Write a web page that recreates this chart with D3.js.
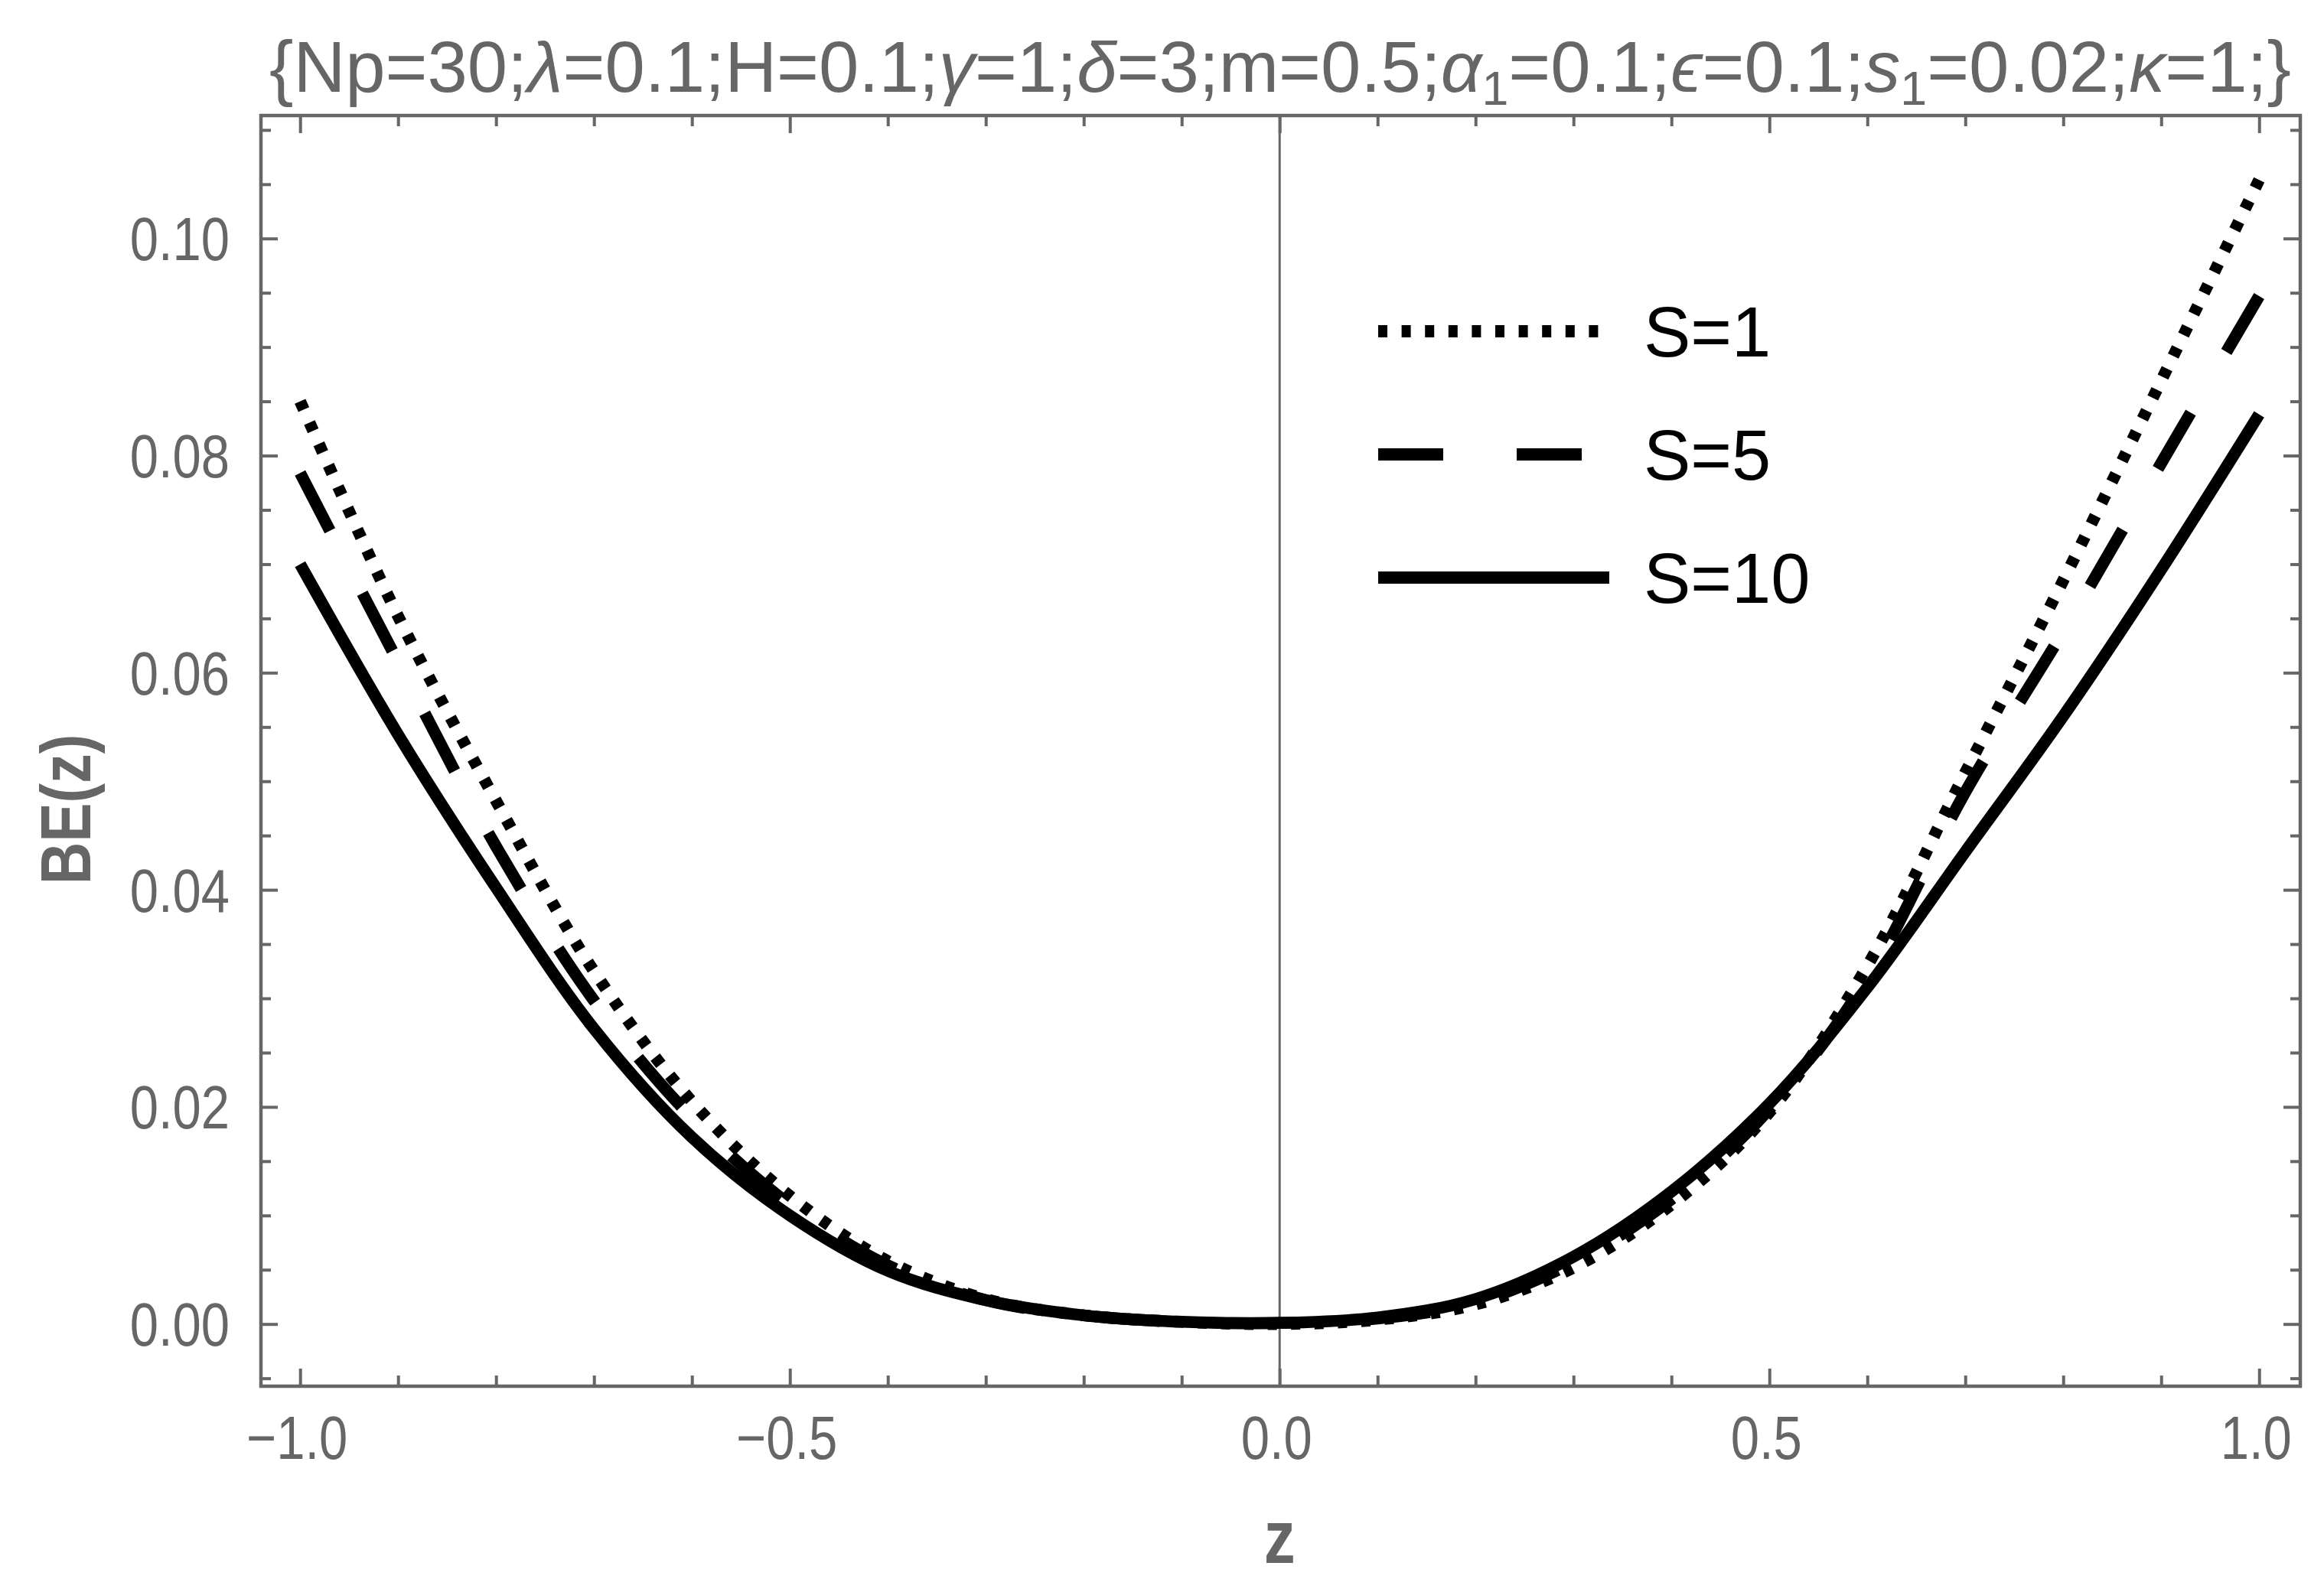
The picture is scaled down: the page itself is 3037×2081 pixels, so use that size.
<!DOCTYPE html>
<html><head><meta charset="utf-8">
<script src="https://cdn.jsdelivr.net/npm/d3@7"></script>
<style>body{margin:0;background:#fff}</style>
</head><body>
<svg id="c" width="3037" height="2081"></svg>
<script>
// ---- data ----
const zValues = [-1.0,-0.9,-0.8,-0.7,-0.6,-0.5,-0.4,-0.3,-0.2,-0.1,0.0,0.1,0.2,0.3,0.4,0.5,0.6,0.7,0.8,0.9,1.0];
const beS1  = [0.0850,0.0652,0.0482,0.0325,0.0205,0.0118,0.0058,0.0023,0.0008,0.0002,0.0000,0.0004,0.0018,0.0052,0.0110,0.0195,0.0330,0.0508,0.0685,0.0869,0.1054];
const beS5  = [0.0784,0.0610,0.0440,0.0298,0.0190,0.0110,0.0054,0.0022,0.0008,0.0002,0.0001,0.0005,0.0020,0.0057,0.0115,0.0198,0.0318,0.0490,0.0638,0.0793,0.0947];
const beS10 = [0.0700,0.0543,0.0402,0.0272,0.0172,0.0100,0.0049,0.0022,0.0008,0.0002,0.0001,0.0006,0.0023,0.0062,0.0122,0.0203,0.0310,0.0435,0.0560,0.0695,0.0838];
const seriesNames = ["S=1","S=5","S=10"];
const xTickValues = [-1.0,-0.5,0.0,0.5,1.0];
const xTickLabels = ["\u22121.0","\u22120.5","0.0","0.5","1.0"];
const yTickValues = [0.00,0.02,0.04,0.06,0.08,0.10];
const yTickLabels = ["0.00","0.02","0.04","0.06","0.08","0.10"];
const xLabel = "z";
const yLabel = "BE(z)";
const titleParts = [
  {t:"{Np=30;"},{t:"\u03bb",i:1},{t:"=0.1;H=0.1;"},{t:"\u03b3",i:1},{t:"=1;"},{t:"\u03b4",i:1},
  {t:"=3;m=0.5;"},{t:"\u03b1",i:1},{t:"1",sub:1},{t:"=0.1;"},{t:"\u03f5",i:1},{t:"=0.1;"},
  {t:"s",i:1},{t:"1",sub:1},{t:"=0.02;"},{t:"\u03ba",i:1},{t:"=1;}"}
];

// ---- layout ----
const W = 3037, H = 2081;
const frame = {left:341, right:3006, top:151, bottom:1812};
const gray = "#666666";
const font = "'Liberation Sans', Arial, sans-serif";
const svg = d3.select("#c");
svg.append("rect").attr("width",W).attr("height",H).attr("fill","#fff");

const x = d3.scaleLinear().domain([-1.04,1.042]).range([frame.left, frame.right]);
const y = d3.scaleLinear().domain([-0.00573,0.11133]).range([frame.bottom, frame.top]);

const xMinor = d3.range(-10,11).map(d=>d/10).filter(v=>!xTickValues.some(t=>Math.abs(t-v)<1e-9));
const yMinor = d3.range(-1,23).map(d=>d*0.005).filter(v=>!yTickValues.some(t=>Math.abs(t-v)<1e-9));

function tickStyle(g){
  g.select(".domain").remove();
  g.selectAll(".tick line").attr("stroke",gray).attr("stroke-width",4);
  g.selectAll(".tick text").remove();
}
const majX = 23, minX = 14, majY = 22, minY = 13;
svg.append("g").attr("transform",`translate(0,${frame.bottom})`).call(d3.axisBottom(x).tickValues(xTickValues).tickSize(-majX).tickFormat("")).call(tickStyle);
svg.append("g").attr("transform",`translate(0,${frame.bottom})`).call(d3.axisBottom(x).tickValues(xMinor).tickSize(-minX).tickFormat("")).call(tickStyle);
svg.append("g").attr("transform",`translate(0,${frame.top})`).call(d3.axisTop(x).tickValues(xTickValues).tickSize(-majX).tickFormat("")).call(tickStyle);
svg.append("g").attr("transform",`translate(0,${frame.top})`).call(d3.axisTop(x).tickValues(xMinor).tickSize(-minX).tickFormat("")).call(tickStyle);
svg.append("g").attr("transform",`translate(${frame.left},0)`).call(d3.axisLeft(y).tickValues(yTickValues).tickSize(-majY).tickFormat("")).call(tickStyle);
svg.append("g").attr("transform",`translate(${frame.left},0)`).call(d3.axisLeft(y).tickValues(yMinor).tickSize(-minY).tickFormat("")).call(tickStyle);
svg.append("g").attr("transform",`translate(${frame.right},0)`).call(d3.axisRight(y).tickValues(yTickValues).tickSize(-majY).tickFormat("")).call(tickStyle);
svg.append("g").attr("transform",`translate(${frame.right},0)`).call(d3.axisRight(y).tickValues(yMinor).tickSize(-minY).tickFormat("")).call(tickStyle);

// vertical axis at z=0
svg.append("line").attr("x1",x(0)).attr("x2",x(0)).attr("y1",frame.top).attr("y2",frame.bottom)
  .attr("stroke",gray).attr("stroke-width",3);

// frame
svg.append("rect").attr("x",frame.left).attr("y",frame.top)
  .attr("width",frame.right-frame.left).attr("height",frame.bottom-frame.top)
  .attr("fill","none").attr("stroke",gray).attr("stroke-width",4.5);

// tick labels
const sY = 1.19, tfs = 67, capHalf = 0.358*tfs*sY;
yTickValues.forEach((v,i)=>{
  svg.append("g").attr("transform",`translate(300,${y(v)+capHalf}) scale(1,${sY})`)
    .append("text").attr("text-anchor","end").attr("font-family",font).attr("font-size",tfs)
    .attr("fill",gray).text(yTickLabels[i]);
});
xTickValues.forEach((v,i)=>{
  svg.append("g").attr("transform",`translate(${x(v)-4},${1878+capHalf}) scale(1,${sY})`)
    .append("text").attr("text-anchor","middle").attr("font-family",font).attr("font-size",tfs)
    .attr("fill",gray).text(xTickLabels[i]);
});

// axis labels
svg.append("g").attr("transform",`translate(${x(0)},2043) scale(1,1.2)`)
  .append("text").attr("text-anchor","middle").attr("font-family",font).attr("font-weight","bold")
  .attr("font-size",82).attr("fill",gray).text(xLabel);
svg.append("g").attr("transform",`translate(118,1058) rotate(-90) scale(1,1.2)`)
  .append("text").attr("text-anchor","middle").attr("font-family",font).attr("font-weight","bold")
  .attr("font-size",77).attr("fill",gray).text(yLabel);

// title
const tt = svg.append("g").attr("transform",`translate(352,120) scale(1,1.2)`)
  .append("text").attr("font-family",font).attr("font-size",78).attr("fill",gray)
  .attr("textLength",2642).attr("lengthAdjust","spacingAndGlyphs");
let prevSub = false;
titleParts.forEach(p=>{
  const ts = tt.append("tspan").text(p.t);
  if(p.i) ts.attr("font-style","italic");
  if(p.sub){ ts.attr("font-size",52).attr("dy",14); prevSub = true; }
  else if(prevSub){ ts.attr("dy",-14); prevSub = false; }
});

// curves
const series = [
  {name:seriesNames[0], vals:beS1, dash:12, period:30.6},
  {name:seriesNames[1], vals:beS5, dash:85, period:181},
  {name:seriesNames[2], vals:beS10, dash:null}
];
const line = d3.line().x(d=>x(d[0])).y(d=>y(d[1])).curve(d3.curveCatmullRom.alpha(0.5));
series.forEach(s=>{
  const p = svg.append("path").datum(zValues.map((z,i)=>[z,s.vals[i]]))
    .attr("d",line).attr("fill","none").attr("stroke","#000").attr("stroke-width",15.5)
    .attr("stroke-linejoin","round");
  if(s.dash){
    const L = p.node().getTotalLength();
    const n = Math.max(1, Math.round((L - s.dash)/s.period));
    const per = (L - s.dash)/n;
    p.attr("stroke-dasharray", `${s.dash},${per - s.dash}`);
  }
});

// legend
const legY = [433,594,755];
series.forEach((s,i)=>{
  const l = svg.append("line").attr("x1",1801).attr("x2",2103).attr("y1",legY[i]).attr("y2",legY[i])
    .attr("stroke","#000").attr("stroke-width",16);
  if(s.dash) l.attr("stroke-dasharray",`${s.dash},${s.period - s.dash}`);
  svg.append("text").attr("x",2148).attr("y",legY[i]+33).attr("font-family",font)
    .attr("font-size",92).attr("fill","#000").text(s.name);
});
</script>
</body></html>
